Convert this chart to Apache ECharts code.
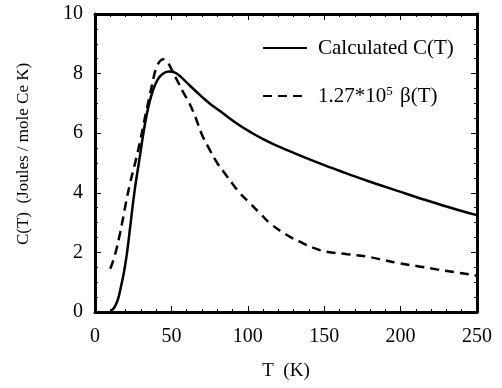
<!DOCTYPE html>
<html>
<head>
<meta charset="utf-8">
<script src="https://cdn.jsdelivr.net/npm/echarts@6/dist/echarts.min.js"></script>
<style>html,body{margin:0;padding:0;background:#fff;}#c{width:502px;height:388px;}</style>
</head>
<body>
<div id="c"></div>
<script>
const calcT = [10,11,13,15,17,19,21,23,26,29,32,35,38,41,44,48,52,56,62,70,75,82,88,95,101,110,120,130,140,150,160,170,180,190,200,210,220,230,240,250];
const calcC = [0,0.05,0.18,0.42,0.85,1.35,2.0,2.85,4.1,5.1,6.1,6.9,7.45,7.8,7.98,8.07,8.04,7.9,7.6,7.22,7.0,6.74,6.5,6.25,6.06,5.8,5.56,5.34,5.13,4.93,4.74,4.55,4.37,4.2,4.03,3.86,3.7,3.54,3.39,3.25];
const betaT = [10,12,14,16,18,20,23,26,29,33,36,38.5,41,44.7,47,50,53,58,62,66,70,75,80,85,90,95,101.4,108,114.5,125,134,143,151.6,165,177.8,190,199.6,212,223.6,235,247.6,250];
const betaC = [1.45,1.74,2.1,2.55,3.05,3.6,4.33,4.95,5.6,6.6,7.3,7.9,8.3,8.48,8.42,8.15,7.85,7.35,6.98,6.5,5.95,5.45,5.0,4.65,4.3,3.98,3.65,3.31,2.98,2.6,2.36,2.15,2.02,1.94,1.86,1.73,1.63,1.53,1.43,1.34,1.24,1.22];
const xTicks = [0,50,100,150,200,250];
const yTicks = [0,2,4,6,8,10];
const seriesNames = ['Calculated C(T)', '1.27*10{sup|5} β(T)'];

const font = 'Liberation Serif, Times New Roman, serif';
const chart = echarts.init(document.getElementById('c'), null, {renderer:'canvas'});
const axisCommon = {
  axisLine:{show:true, onZero:false, lineStyle:{color:'#000', width:3}},
  axisTick:{show:true, inside:true, length:6, lineStyle:{color:'#000', width:1}},
  minorTick:{show:true, splitNumber:5, length:3, lineStyle:{color:'#000', width:1}},
  splitLine:{show:false}
};
chart.setOption({
  animation:false,
  backgroundColor:'#fff',
  grid:{left:95, right:25, top:14, bottom:76},
  legend:{
    orient:'vertical', left:262, top:37, itemWidth:44, itemHeight:14, itemGap:26, padding:0,
    data:seriesNames,
    itemStyle:{opacity:0, color:'rgba(0,0,0,0)', borderWidth:0},
    textStyle:{fontFamily:font, fontSize:21, lineHeight:22, color:'#000', padding:[0,0,0,6],
      rich:{sup:{fontSize:13, fontFamily:font, color:'#000', verticalAlign:'top', lineHeight:22, padding:[0,2,12,0]}}}
  },
  xAxis:[
    Object.assign({type:'value', min:xTicks[0], max:xTicks[xTicks.length-1], interval:50, position:'bottom',
      name:'T  (K)', nameLocation:'middle', nameGap:50,
      nameTextStyle:{fontFamily:font, fontSize:19, color:'#000'},
      axisLabel:{fontFamily:font, fontSize:20, color:'#000', margin:15}}, axisCommon),
    Object.assign({type:'value', min:0, max:250, interval:50, position:'top', axisLabel:{show:false}}, axisCommon)
  ],
  yAxis:[
    Object.assign({type:'value', min:yTicks[0], max:yTicks[yTicks.length-1], interval:2, position:'left',
      name:'C(T)  (Joules / mole Ce K)', nameLocation:'middle', nameGap:63,
      nameTextStyle:{fontFamily:font, fontSize:17, color:'#000', padding:[0,0,0,18]},
      axisLabel:{fontFamily:font, fontSize:20, color:'#000', margin:12}}, axisCommon,
      {minorTick:{show:true, splitNumber:4, length:3, lineStyle:{color:'#000', width:1}}}),
    Object.assign({type:'value', min:0, max:10, interval:2, position:'right', axisLabel:{show:false}}, axisCommon,
      {minorTick:{show:true, splitNumber:4, length:3, lineStyle:{color:'#000', width:1}}})
  ],
  series:[
    {name:seriesNames[0], type:'line', smooth:0.4, symbol:'none', data:calcT.map((t,i)=>[t,calcC[i]]),
      lineStyle:{color:'#000', width:2.5, type:'solid'}, itemStyle:{color:'#000'}},
    {name:seriesNames[1], type:'line', smooth:0.4, symbol:'none', data:betaT.map((t,i)=>[t,betaC[i]]),
      lineStyle:{color:'#000', width:2.5, type:[9,6]}, itemStyle:{color:'#000'}}
  ]
});
</script>
</body>
</html>
